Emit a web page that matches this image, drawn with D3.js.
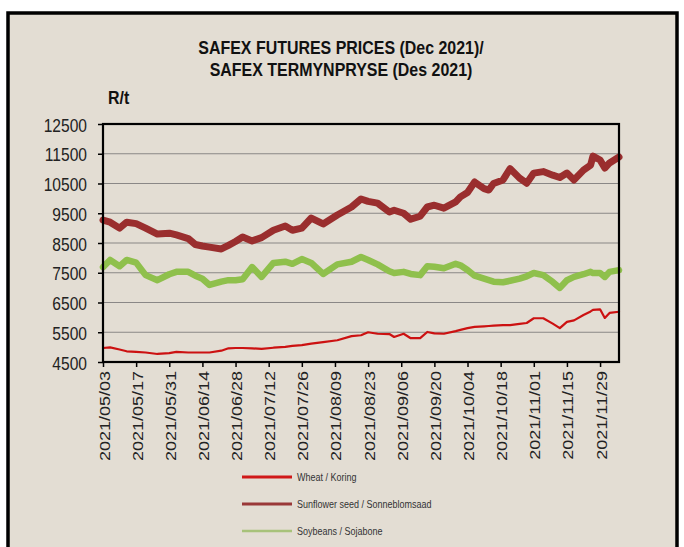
<!DOCTYPE html>
<html>
<head>
<meta charset="utf-8">
<script src="https://cdn.jsdelivr.net/npm/d3@7"></script>
<style>
  body { margin: 0; background: #fff; }
  svg { display: block; }
</style>
</head>
<body>
<div id="chart"></div>
<script>
var dates = ['2021-05-03', '2021-05-06', '2021-05-10', '2021-05-13', '2021-05-17', '2021-05-21', '2021-05-26', '2021-05-31', '2021-06-03', '2021-06-08',
  '2021-06-11', '2021-06-14', '2021-06-17', '2021-06-22', '2021-06-25', '2021-06-28', '2021-07-01', '2021-07-05', '2021-07-09', '2021-07-14',
  '2021-07-19', '2021-07-22', '2021-07-26', '2021-07-30', '2021-08-04', '2021-08-10', '2021-08-16', '2021-08-20', '2021-08-23', '2021-08-27',
  '2021-09-01', '2021-09-03', '2021-09-07', '2021-09-10', '2021-09-14', '2021-09-17', '2021-09-20', '2021-09-24', '2021-09-29', '2021-10-01',
  '2021-10-04', '2021-10-07', '2021-10-11', '2021-10-13', '2021-10-15', '2021-10-19', '2021-10-22', '2021-10-26', '2021-10-29', '2021-11-01',
  '2021-11-05', '2021-11-09', '2021-11-12', '2021-11-15', '2021-11-18', '2021-11-22', '2021-11-25', '2021-11-26', '2021-11-29', '2021-12-01',
  '2021-12-03', '2021-12-07']

var wheat = [4970, 4990, 4920, 4860, 4840, 4820, 4770, 4800, 4840, 4820,
  4820, 4820, 4820, 4880, 4960, 4970, 4970, 4960, 4940, 4980,
  5010, 5040, 5070, 5120, 5170, 5230, 5370, 5400, 5500, 5450,
  5440, 5340, 5450, 5300, 5300, 5510, 5460, 5450, 5540, 5580,
  5640, 5680, 5700, 5710, 5720, 5740, 5740, 5780, 5810, 5970,
  5970, 5790, 5640, 5850, 5900, 6080, 6200, 6250, 6270, 5980,
  6150, 6190]

var sunflower = [9270, 9200, 9000, 9200, 9150, 9000, 8800, 8830, 8770, 8650,
  8450, 8400, 8360, 8300, 8420, 8550, 8700, 8570, 8680, 8930,
  9070, 8930, 9000, 9340, 9140, 9440, 9710, 9980, 9900, 9840,
  9540, 9600, 9500, 9300, 9400, 9710, 9770, 9670, 9880, 10050,
  10200, 10550, 10330, 10280, 10500, 10620, 11000, 10680, 10510, 10850,
  10900, 10780, 10700, 10850, 10620, 10950, 11120, 11420, 11290, 11020,
  11190, 11390]

var soybeans = [7690, 7930, 7720, 7930, 7840, 7420, 7250, 7450, 7530, 7530,
  7400, 7300, 7090, 7200, 7250, 7250, 7280, 7690, 7360, 7830,
  7870, 7800, 7960, 7830, 7460, 7780, 7870, 8030, 7930, 7780,
  7550, 7490, 7530, 7460, 7420, 7720, 7700, 7650, 7800, 7750,
  7590, 7400, 7300, 7250, 7200, 7180, 7230, 7300, 7380, 7490,
  7420, 7190, 6990, 7250, 7360, 7450, 7530, 7490, 7490, 7360,
  7530, 7590]

var yTicks = [4500, 5500, 6500, 7500, 8500, 9500, 10500, 11500, 12500]
var xTicks = ['2021-05-03', '2021-05-17', '2021-05-31', '2021-06-14', '2021-06-28', '2021-07-12', '2021-07-26', '2021-08-09',
  '2021-08-23', '2021-09-06', '2021-09-20', '2021-10-04', '2021-10-18', '2021-11-01', '2021-11-15', '2021-11-29']

var seriesNames = ['Wheat / Koring', 'Sunflower seed / Sonneblomsaad', 'Soybeans / Sojabone']

var fullWidth = 684
var fullHeight = 547
var margin = { top: 124, left: 103, right: 65, bottom: 185 }
var width = fullWidth - margin.left - margin.right
var height = fullHeight - margin.top - margin.bottom

var parseTime = d3.timeParse('%Y-%m-%d')
var formatTick = d3.timeFormat('%Y/%m/%d')

var root = d3.select('#chart')
  .append('svg')
  .attr('width', fullWidth)
  .attr('height', fullHeight)

// outer framed panel
root.append('rect')
  .attr('x', 8)
  .attr('y', 13)
  .attr('width', 669)
  .attr('height', 560)
  .attr('fill', '#e3ddd3')
  .attr('stroke', '#000')
  .attr('stroke-width', 3.5)

// titles
var titleLines = ['SAFEX FUTURES PRICES (Dec 2021)/', 'SAFEX TERMYNPRYSE (Des 2021)']
root.selectAll('.title')
  .data(titleLines)
  .enter()
  .append('text')
  .attr('class', 'title')
  .attr('transform', (d, i) => `translate(341, ${54 + i * 22}) scale(0.84, 1)`)
  .attr('text-anchor', 'middle')
  .attr('font-family', 'Liberation Sans, Arial, sans-serif')
  .attr('font-weight', 'bold')
  .attr('font-size', 19)
  .attr('fill', '#111')
  .text(d => d)

root.append('text')
  .attr('transform', 'translate(108, 104) scale(0.84, 1)')
  .attr('font-family', 'Liberation Sans, Arial, sans-serif')
  .attr('font-weight', 'bold')
  .attr('font-size', 19)
  .attr('fill', '#111')
  .text('R/t')

var svg = root.append('g')
  .attr('transform', `translate(${margin.left},${margin.top})`)

var xPositionScale = d3.scaleTime()
  .domain([parseTime('2021-05-03'), parseTime('2021-12-07')])
  .range([0, width])

var yPositionScale = d3.scaleLinear()
  .domain([4500, 12500])
  .range([height, 0])

// gridlines
svg.selectAll('.grid')
  .data(yTicks)
  .enter()
  .append('line')
  .attr('class', 'grid')
  .attr('x1', 0)
  .attr('x2', width)
  .attr('y1', d => yPositionScale(d))
  .attr('y2', d => yPositionScale(d))
  .attr('stroke', '#8a8786')
  .attr('stroke-width', 1.2)

var points = dates.map(parseTime)

var line = d3.line()
  .x((d, i) => xPositionScale(points[i]))
  .y(d => yPositionScale(d))

var series = [
  { name: seriesNames[0], values: wheat, color: '#cc1111', width: 2.2, legendColor: '#d01818', legendWidth: 3 },
  { name: seriesNames[1], values: sunflower, color: '#9a2e2e', width: 7, legendColor: '#9a3838', legendWidth: 3 },
  { name: seriesNames[2], values: soybeans, color: '#8fc04c', width: 6.5, legendColor: '#a8c27a', legendWidth: 2.5 }
]

svg.selectAll('.price-line')
  .data(series)
  .enter()
  .append('path')
  .attr('class', 'price-line')
  .attr('d', d => line(d.values))
  .attr('fill', 'none')
  .attr('stroke', d => d.color)
  .attr('stroke-width', d => d.width)
  .attr('stroke-linejoin', 'round')
  .attr('stroke-linecap', 'round')

// plot frame
svg.append('rect')
  .attr('x', 0)
  .attr('y', 0)
  .attr('width', width)
  .attr('height', height)
  .attr('fill', 'none')
  .attr('stroke', '#000')
  .attr('stroke-width', 2.2)

// axes
var yAxis = d3.axisLeft(yPositionScale)
  .tickValues(yTicks)
  .tickSize(5)
  .tickFormat(d3.format('d'))

var yG = svg.append('g')
  .attr('class', 'axis y-axis')
  .call(yAxis)
yG.select('.domain').remove()
yG.selectAll('line').attr('stroke', '#000').attr('stroke-width', 1.5)
yG.selectAll('text')
  .attr('x', null)
  .attr('dy', null)
  .attr('transform', 'translate(-16, 7) scale(0.82, 1)')
  .attr('font-family', 'Liberation Sans, Arial, sans-serif')
  .attr('font-size', 19)
  .attr('fill', '#222')

var xAxis = d3.axisBottom(xPositionScale)
  .tickValues(xTicks.map(parseTime))
  .tickSize(5)
  .tickFormat(formatTick)

var xG = svg.append('g')
  .attr('class', 'axis x-axis')
  .attr('transform', `translate(0, ${height})`)
  .call(xAxis)
xG.select('.domain').remove()
xG.selectAll('line').attr('stroke', '#000').attr('stroke-width', 1.5)
xG.selectAll('text')
  .attr('x', null)
  .attr('y', null)
  .attr('dy', null)
  .attr('text-anchor', 'end')
  .attr('transform', 'translate(6, 9) rotate(-90) scale(1, 0.85)')
  .attr('font-family', 'Liberation Sans, Arial, sans-serif')
  .attr('font-size', 18)
  .attr('fill', '#222')

// legend
var legend = root.selectAll('.legend')
  .data(series)
  .enter()
  .append('g')
  .attr('class', 'legend')
  .attr('transform', (d, i) => `translate(242, ${477 + i * 27})`)

legend.append('line')
  .attr('x1', 0)
  .attr('x2', 50)
  .attr('stroke', d => d.legendColor)
  .attr('stroke-width', d => d.legendWidth)

legend.append('text')
  .attr('dy', '0.35em')
  .attr('font-family', 'Liberation Sans, Arial, sans-serif')
  .attr('font-size', 10)
  .attr('transform', 'translate(55, 0) scale(0.9, 1)')
  .attr('fill', '#333')
  .text(d => d.name)
</script>
</body>
</html>
